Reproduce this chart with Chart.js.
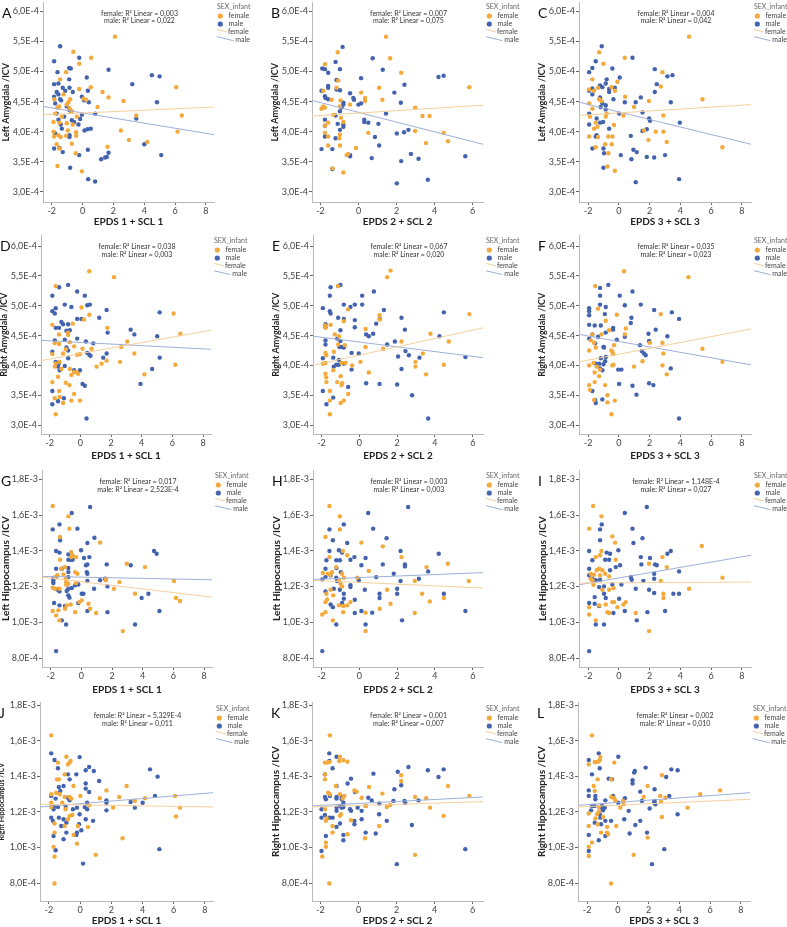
<!DOCTYPE html>
<html>
<head>
<meta charset="utf-8">
<script src="https://cdn.jsdelivr.net/npm/chart.js@4.4.1/dist/chart.umd.min.js"></script>
<style>
  html, body { margin: 0; padding: 0; background: #fff; }
  body { position: relative; width: 787px; height: 927px; overflow: hidden; font-family: Lato, "DejaVu Sans", sans-serif; }
  canvas { position: absolute; }
  .letter { position: absolute; font-size: 14px; line-height: 16px; color: #111; }
  .note { position: absolute; width: 150px; font-size: 7px; line-height: 7.5px; color: #333; text-align: center; white-space: nowrap; }
  .legend { position: absolute; }
  .legend svg { overflow: visible; display: block; }
</style>
</head>
<body>
<script>
// y values are in units of 1E-4 (brain volume / ICV)

// ---- axis ticks ----
const xTicksWide = [-2, 0, 2, 4, 6, 8];
const xTicksNarrow = [-2, 0, 2, 4, 6];
const amygTicks = [3.0, 3.5, 4.0, 4.5, 5.0, 5.5, 6.0];
const amygTickLabels = ['3,0E-4', '3,5E-4', '4,0E-4', '4,5E-4', '5,0E-4', '5,5E-4', '6,0E-4'];
const hippTicks = [8, 10, 12, 14, 16, 18];
const hippTickLabels = ['8,0E-4', '1,0E-3', '1,2E-3', '1,4E-3', '1,6E-3', '1,8E-3'];

const xTitles = ['EPDS 1 + SCL 1', 'EPDS 2 + SCL 2', 'EPDS 3 + SCL 3'];
const yTitles = ['Left Amygdala /ICV', 'Right Amygdala /ICV', 'Left Hippocampus /ICV', 'Right Hippocampus /ICV'];
const panelLetters = ['A', 'B', 'C', 'D', 'E', 'F', 'G', 'H', 'I', 'J', 'K', 'L'];
const r2Female = ['0,003', '0,007', '0,004', '0,038', '0,067', '0,035', '0,017', '0,003', '1,148E-4', '5,329E-4', '0,001', '0,002'];
const r2Male = ['0,022', '0,075', '0,042', '0,003', '0,020', '0,023', '2,523E-4', '0,003', '0,027', '0,011', '0,007', '0,010'];

// ---- A: Left Amygdala vs EPDS 1 + SCL 1 ----
const femaleA = [[2.1,5.58],[-0.6,5.33],[0.55,5.23],[-0.22,5.13],[-1.07,4.99],[-1.46,4.87],[-0.22,4.71],[0.53,4.74],[1.29,4.66],[1.68,4.57],[2.65,4.51],[6.07,4.74],[6.44,4.27],[6.16,4.0],[3.48,4.27],[4.19,3.83],[3.0,3.86],[2.48,4.02],[1.61,3.75],[0.97,4.41],[0.23,4.53],[0.06,4.55],[-0.81,4.54],[-0.92,4.49],[-0.7,4.34],[-0.38,4.25],[-0.64,4.12],[-0.42,3.99],[-0.42,3.93],[-1.07,3.93],[-0.7,3.8],[-0.44,3.64],[-0.05,3.34],[-1.63,3.43],[-1.68,3.79],[-1.57,3.94],[-1.89,4.0],[-1.89,4.16],[-1.5,4.15],[-1.63,4.4],[-1.52,4.42],[-1.83,4.54],[-1.24,4.62],[-1.03,4.45],[-0.85,4.39],[-1.5,3.72],[-1.42,3.91],[-1.03,4.14],[-0.96,4.02],[-1.85,3.92],[-1.78,4.3],[-1.35,4.25]];
const maleA = [[-1.46,5.42],[-1.85,5.17],[-1.63,4.99],[-0.87,5.06],[-0.77,5.05],[-0.22,5.23],[0.27,4.9],[1.68,5.03],[3.22,4.79],[4.49,4.94],[4.99,4.92],[4.82,4.49],[3.48,4.22],[4.0,3.79],[5.1,3.61],[1.68,3.65],[1.57,3.58],[1.46,3.57],[1.2,3.54],[0.34,3.7],[-0.22,3.61],[0.36,3.21],[0.81,3.17],[-0.81,3.4],[-1.5,3.73],[-1.85,3.72],[-1.29,3.66],[-1.35,4.05],[-1.78,3.97],[-0.85,3.91],[-0.85,3.94],[-0.7,4.19],[-0.55,4.16],[-0.27,4.12],[-0.16,4.21],[-0.05,4.28],[0.12,4.02],[0.32,4.04],[0.53,4.05],[0.4,4.49],[0.34,4.68],[-0.05,4.58],[0.1,4.52],[0.81,4.3],[-0.64,4.66],[-0.87,4.87],[-0.85,4.73],[-1.29,4.73],[-1.57,4.8],[-1.85,4.79],[-1.68,4.66],[-1.57,4.62],[-1.85,4.58],[-1.78,4.47],[-1.46,4.54],[-1.39,4.52],[-1.13,4.68],[-1.03,4.42],[-0.85,4.36],[-0.74,4.34],[-1.68,4.3],[-1.57,4.2],[-1.42,4.12],[-1.2,4.25]];
const fitFemaleA = [[-2.57,4.28],[8.52,4.41]];
const fitMaleA = [[-2.57,4.42],[8.52,3.95]];

// ---- B: Left Amygdala vs EPDS 2 + SCL 2 ----
const femaleB = [[1.44,5.58],[-1.1,5.32],[1.66,5.22],[-1.77,5.12],[2.24,4.98],[1.08,4.73],[5.82,4.74],[-1.86,4.68],[0.13,4.65],[0.34,4.56],[0.34,4.51],[1.25,4.53],[-0.45,4.45],[-1.42,4.53],[-0.95,4.52],[-0.98,4.42],[-1.95,4.38],[2.97,4.4],[3.36,4.26],[3.73,4.26],[4.47,3.98],[4.7,3.84],[3.54,3.81],[2.97,4.01],[0.51,3.98],[-0.14,3.73],[-0.63,3.61],[-0.8,3.32],[-1.37,3.39],[-0.98,3.77],[-1.6,3.77],[-0.98,3.95],[-1.02,3.89],[-1.6,3.92],[-1.77,3.98],[-1.77,4.1],[-1.6,4.15],[-1.33,4.28],[-1.77,4.4],[-1.86,4.42],[-1.16,4.73],[-1.07,4.85],[-0.93,4.23],[-0.8,4.16],[-0.55,3.63]];
const maleB = [[-0.84,5.41],[0.74,5.22],[-1.21,5.16],[-1.91,5.05],[-1.77,5.04],[-1.6,4.98],[-0.98,5.04],[1.27,5.03],[0.13,4.89],[-1.16,4.86],[4.2,4.91],[4.47,4.93],[1.88,4.65],[2.41,4.78],[2.22,4.48],[1.44,4.3],[0.3,4.2],[0.51,4.15],[0.3,4.16],[1.04,4.13],[0.86,3.91],[1.08,3.77],[0.69,3.56],[2.01,3.97],[2.39,3.99],[2.62,4.03],[2.75,3.63],[3.15,3.55],[2.24,3.51],[2.01,3.14],[3.64,3.2],[5.61,3.59],[-0.45,3.59],[-0.45,3.61],[-1.38,3.38],[-1.38,3.71],[-1.95,3.71],[-1.77,3.92],[-1.21,3.89],[-0.98,4.03],[-0.8,4.12],[-0.8,4.08],[-1.1,4.13],[-1.77,4.1],[-1.77,4.2],[-1.21,4.27],[-0.89,4.4],[-0.98,4.34],[-0.8,4.45],[-0.8,4.48],[-0.24,4.53],[-0.28,4.56],[-0.45,4.64],[-0.01,4.45],[0.13,4.47],[-1.6,4.54],[-1.74,4.56],[-1.6,4.73],[-1.16,4.7],[-1.95,4.68],[-1.77,4.59],[-1.6,4.76],[-0.98,4.69]];
const fitFemaleB = [[-2.45,4.26],[6.54,4.44]];
const fitMaleB = [[-2.45,4.52],[6.54,3.79]];

// ---- C: Left Amygdala vs EPDS 3 + SCL 3 ----
const femaleC = [[4.57,5.58],[-1.28,5.32],[-1.0,5.13],[0.39,5.23],[2.84,4.99],[2.73,4.75],[0.41,4.58],[5.44,4.54],[1.96,4.51],[0.99,4.41],[0.3,4.27],[2.9,4.27],[2.4,4.0],[2.9,4.0],[1.93,3.86],[3.12,3.83],[6.74,3.74],[1.64,4.02],[-0.31,4.11],[-0.42,3.92],[-0.68,3.92],[-0.89,3.79],[-0.46,3.79],[-0.68,3.64],[-0.74,3.42],[-0.26,3.35],[-1.5,3.74],[-1.35,3.91],[-1.93,3.92],[-1.61,4.05],[-1.5,4.15],[-1.87,4.25],[-1.72,4.38],[-1.93,4.47],[-1.13,4.51],[-1.28,4.54],[-1.72,4.87],[-1.93,4.7],[-1.61,4.68],[-1.35,4.73],[-0.85,4.25],[-0.79,4.3],[-0.09,4.83],[-0.26,4.68],[-0.48,4.74],[-1.39,4.08]];
const maleC = [[-1.11,5.42],[-1.5,5.17],[-1.72,5.06],[-1.93,4.99],[-0.42,5.05],[0.89,5.23],[0.06,4.9],[2.34,5.04],[3.16,4.92],[3.49,4.94],[2.47,4.79],[2.34,4.66],[3.38,4.49],[1.43,4.57],[1.1,4.49],[1.54,4.32],[1.97,4.22],[2.03,4.18],[0.02,4.3],[0.39,4.49],[3.97,4.15],[1.54,4.01],[1.82,4.04],[0.78,3.93],[0.95,3.7],[1.17,3.66],[0.82,3.54],[0.13,3.61],[1.82,3.58],[2.3,3.57],[3.01,3.61],[1.1,3.16],[3.92,3.21],[-1.0,3.4],[-1.0,3.72],[-1.72,3.72],[-0.96,3.64],[-1.5,3.92],[-1.44,3.94],[-0.63,4.05],[-1.93,4.12],[-1.22,4.15],[-1.02,4.16],[-1.44,4.22],[-0.85,4.37],[-0.85,4.44],[-0.35,4.54],[-0.26,4.73],[-0.63,4.66],[-0.63,4.71],[-0.85,4.8],[-1.07,4.74],[-0.79,4.87],[-1.22,4.77],[-1.72,4.62],[-1.93,4.68],[-1.72,4.72],[-1.22,4.57],[-1.18,4.41],[-1.07,4.47],[-1.93,4.3]];
const fitFemaleC = [[-2.59,4.27],[8.6,4.45]];
const fitMaleC = [[-2.59,4.49],[8.6,3.79]];

// ---- D: Right Amygdala vs EPDS 1 + SCL 1 ----
const femaleD = [[0.58,5.58],[2.19,5.48],[-1.61,5.33],[0.58,4.85],[6.08,4.87],[0.07,4.97],[-1.83,4.68],[-1.39,4.52],[-0.8,4.51],[1.76,4.63],[6.52,4.53],[3.06,4.4],[2.67,4.31],[3.52,4.2],[2.59,4.06],[1.71,4.08],[1.38,4.03],[1.06,3.98],[6.19,4.01],[4.18,3.85],[0.73,4.28],[0.14,4.28],[-0.21,4.18],[-0.03,4.19],[-0.41,4.32],[-0.69,4.39],[-0.95,4.27],[-1.13,4.2],[-1.67,4.37],[-1.39,4.36],[-1.83,4.19],[-1.35,4.06],[-1.61,4.03],[-1.67,3.98],[-1.24,3.94],[-0.69,3.94],[-0.41,3.89],[-0.24,3.88],[-0.59,3.84],[-0.14,3.86],[-1.46,3.81],[-1.83,3.72],[-0.95,3.71],[-0.72,3.67],[-0.41,3.52],[-0.03,3.41],[-0.59,3.41],[-1.13,3.37],[-1.35,3.47],[-1.67,3.45],[-1.61,3.18],[-1.39,3.57],[-0.5,4.7],[-0.8,4.55],[0.23,4.77]];
const maleD = [[-0.8,5.35],[-1.39,5.31],[-1.83,5.17],[-0.21,5.24],[0.29,5.17],[0.45,5.01],[0.62,5.02],[-1.02,5.02],[-0.59,4.98],[-1.61,4.96],[-1.83,4.91],[-1.67,4.87],[1.71,4.93],[5.17,4.89],[1.23,4.8],[-0.21,4.78],[0.07,4.78],[-1.24,4.73],[-0.8,4.69],[-1.61,4.63],[-1.39,4.63],[-1.13,4.69],[-0.91,4.58],[-0.69,4.59],[3.28,4.6],[3.52,4.52],[1.78,4.55],[5.01,4.49],[-1.67,4.42],[-1.02,4.43],[-0.21,4.45],[0.36,4.4],[0.84,4.37],[-1.83,4.23],[-0.91,4.3],[-0.8,4.25],[0.45,4.21],[0.58,4.18],[0.66,4.16],[1.49,4.13],[5.17,4.13],[1.71,4.2],[-0.8,4.12],[-1.61,4.06],[-1.39,4.04],[-1.46,3.98],[-1.35,3.92],[-1.02,3.99],[-0.41,3.92],[-0.03,3.92],[0.14,3.69],[0.29,3.66],[4.68,3.94],[3.92,3.69],[-1.83,3.57],[-1.83,3.35],[-1.46,3.4],[-1.08,3.45],[0.4,3.11]];
const fitFemaleD = [[-2.57,4.08],[8.52,4.59]];
const fitMaleD = [[-2.57,4.42],[8.52,4.27]];

// ---- E: Right Amygdala vs EPDS 2 + SCL 2 ----
const femaleE = [[1.65,5.59],[1.47,5.48],[-1.12,5.33],[-0.59,4.94],[5.82,4.86],[1.07,4.84],[1.07,4.77],[-0.82,4.74],[-1.82,4.67],[-1.79,4.63],[-1.52,4.68],[0.33,4.61],[-1.3,4.52],[-1.08,4.49],[3.76,4.53],[4.73,4.4],[2.23,4.4],[0.33,4.31],[1.26,4.28],[3.36,4.2],[2.97,4.06],[2.97,3.98],[4.47,4.01],[3.53,3.85],[0.5,3.88],[0.06,4.06],[-0.38,4.0],[-0.73,4.04],[-0.94,4.04],[-1.35,4.23],[-1.79,4.21],[-1.75,4.17],[-1.79,4.04],[-1.93,4.03],[-1.79,3.86],[-1.75,3.8],[-1.74,3.72],[-1.38,3.92],[-0.99,3.82],[-0.91,3.7],[-0.94,3.67],[-1.17,3.72],[-0.59,3.52],[-0.82,3.41],[-0.99,3.37],[-1.56,3.41],[-1.56,3.57],[-1.56,3.18],[-0.77,4.34],[-1.12,4.35]];
const maleE = [[-1.0,5.35],[-1.52,5.31],[-1.56,5.17],[-1.12,5.33],[0.15,5.17],[0.77,5.24],[-1.93,4.96],[-0.82,5.02],[-0.47,4.98],[-0.24,5.02],[0.15,5.02],[1.3,4.93],[-1.56,4.91],[-1.52,4.87],[-1.12,4.8],[-0.82,4.78],[-0.24,4.76],[-0.24,4.64],[-1.79,4.69],[-1.79,4.64],[-1.0,4.59],[0.89,4.7],[1.08,4.78],[2.23,4.8],[4.47,4.89],[2.41,4.6],[4.24,4.49],[0.36,4.52],[0.5,4.49],[0.73,4.53],[-1.17,4.45],[-1.0,4.41],[-1.79,4.42],[-1.79,4.35],[-1.05,4.31],[-0.91,4.31],[-0.82,4.3],[-1.38,4.13],[-1.08,4.09],[-0.41,4.21],[-0.03,4.2],[1.47,4.35],[1.88,4.4],[2.44,4.24],[2.62,4.17],[2.05,4.15],[3.18,4.13],[5.61,4.14],[-1.93,4.12],[-1.35,3.98],[-1.22,4.01],[-1.08,4.01],[-0.82,4.03],[-0.41,3.93],[2.23,3.94],[-0.59,3.64],[0.36,3.7],[1.07,3.69],[2.0,3.68],[2.79,3.5],[-1.93,3.57],[-1.74,3.35],[-1.38,3.46],[3.64,3.11]];
const fitFemaleE = [[-2.45,4.0],[6.54,4.63]];
const fitMaleE = [[-2.45,4.49],[6.54,4.13]];

// ---- F: Right Amygdala vs EPDS 3 + SCL 3 ----
const femaleF = [[0.34,5.58],[4.53,5.48],[-1.54,5.33],[-1.35,4.95],[-0.13,4.85],[2.73,4.86],[0.45,4.62],[0.39,4.52],[-0.63,4.59],[-1.13,4.52],[-1.72,4.52],[-1.83,4.42],[-1.61,4.38],[-1.5,4.3],[-1.93,4.25],[-0.48,4.25],[-0.42,4.23],[-0.31,4.34],[-0.37,4.19],[5.44,4.28],[2.84,4.38],[2.03,4.38],[2.9,4.2],[6.74,4.06],[2.84,4.0],[3.12,3.85],[1.54,4.07],[0.99,3.98],[-0.35,4.01],[-0.42,4.0],[-1.93,4.0],[-1.65,4.04],[-1.57,3.88],[-1.22,3.93],[-1.44,3.98],[-1.28,3.82],[-0.89,3.67],[-1.93,3.67],[-1.57,3.72],[-1.61,3.42],[-0.74,3.5],[-0.74,3.38],[-0.26,3.41],[-0.48,3.18],[-1.87,3.59],[-0.85,4.75]];
const maleF = [[-0.68,5.35],[-1.22,5.3],[-1.22,5.17],[0.06,5.17],[0.89,5.24],[-0.85,4.98],[-1.22,5.02],[-1.93,4.96],[0.39,5.01],[1.43,5.02],[-1.93,4.91],[-0.91,4.86],[2.3,4.93],[3.45,4.89],[3.92,4.78],[0.82,4.8],[-1.93,4.84],[-1.93,4.68],[-1.57,4.67],[-0.37,4.63],[-0.37,4.6],[0.78,4.71],[2.4,4.6],[1.93,4.53],[3.16,4.49],[-1.35,4.48],[-0.85,4.55],[-1.17,4.67],[-1.72,4.52],[-1.93,4.45],[-1.54,4.37],[-1.0,4.31],[-0.96,4.3],[-0.13,4.43],[0.39,4.48],[1.38,4.34],[1.49,4.24],[1.64,4.2],[1.75,4.17],[1.97,4.41],[-0.85,4.14],[-0.89,4.07],[-1.17,4.12],[-1.0,4.02],[-1.28,4.03],[-1.5,4.03],[-1.22,3.95],[-1.07,3.92],[-0.04,3.93],[0.17,3.93],[3.38,3.95],[-1.54,3.42],[-1.72,3.57],[-1.07,3.43],[-1.5,3.37],[0.02,3.69],[0.89,3.66],[1.15,3.51],[1.97,3.7],[2.25,3.67],[3.92,3.11]];
const fitFemaleF = [[-2.59,4.06],[8.6,4.61]];
const fitMaleF = [[-2.59,4.52],[8.6,4.01]];

// ---- G: Left Hippocampus vs EPDS 1 + SCL 1 ----
const femaleG = [[-1.87,16.51],[-0.85,15.93],[-0.78,15.24],[-1.39,14.77],[1.22,14.46],[-1.39,13.5],[-0.67,13.65],[-0.57,13.75],[-0.67,13.93],[-0.41,12.81],[-0.26,12.72],[-1.72,12.53],[-1.57,12.63],[-1.17,12.68],[-1.02,12.44],[-0.99,12.25],[-0.99,12.1],[-0.85,12.16],[-1.87,11.94],[-1.72,11.88],[-1.43,11.88],[-1.33,13.0],[-1.07,13.09],[-0.35,12.2],[-0.13,11.13],[0.02,11.23],[0.46,11.04],[0.57,10.76],[-0.41,10.57],[-1.07,10.76],[-1.5,10.67],[-1.87,10.63],[-1.65,10.39],[-0.96,10.95],[-0.7,11.0],[-1.43,10.11],[0.96,10.52],[1.61,12.44],[2.13,11.88],[2.48,12.25],[2.96,13.28],[4.15,13.09],[3.5,11.6],[2.7,9.51],[6.04,12.31],[6.17,11.36],[6.43,11.19],[1.59,12.35],[-0.35,13.65]];
const maleG = [[-0.63,16.12],[0.57,16.45],[-1.87,15.2],[-1.43,15.48],[-0.26,15.24],[-1.39,14.59],[0.85,14.73],[0.39,14.44],[-0.02,14.03],[-1.65,13.99],[-1.43,13.9],[-0.85,13.8],[-0.85,13.5],[-0.7,13.5],[-0.57,13.5],[0.17,13.6],[0.52,13.65],[0.3,13.19],[0.39,13.24],[1.65,13.24],[3.22,13.19],[4.74,13.99],[4.91,13.84],[-1.65,13.0],[-1.28,13.0],[-0.85,13.04],[-0.85,12.81],[0.35,12.81],[0.39,12.72],[-0.85,12.53],[-1.83,12.44],[-1.83,12.31],[-1.83,12.2],[-1.65,12.53],[1.22,12.35],[1.54,12.44],[0.39,12.31],[-0.41,12.07],[-0.63,11.92],[-0.85,11.88],[-0.2,12.12],[-1.57,11.84],[-1.43,11.73],[-0.96,11.75],[1.7,12.01],[0.83,11.88],[0.02,11.6],[0.13,11.6],[-0.85,11.51],[-0.78,11.38],[-1.78,11.08],[-1.43,10.95],[-1.07,10.91],[-0.2,11.08],[0.39,10.63],[1.7,10.57],[4.37,11.6],[3.93,11.36],[5.09,10.63],[3.5,9.88],[-1.0,9.88],[-1.28,10.11],[-1.65,8.39]];
const fitFemaleG = [[-2.57,12.53],[8.52,11.41]];
const fitMaleG = [[-2.57,12.57],[8.52,12.38]];

// ---- H: Left Hippocampus vs EPDS 2 + SCL 2 ----
const femaleH = [[-1.58,16.51],[-1.03,15.93],[-1.03,15.2],[-1.79,14.77],[0.11,14.46],[1.24,14.25],[-0.87,13.99],[-1.58,13.65],[2.23,13.65],[-0.64,13.75],[0.5,12.87],[4.68,13.28],[3.55,13.09],[-1.22,13.09],[-1.93,12.76],[-1.67,12.72],[-1.52,12.66],[-1.44,12.81],[-0.91,12.72],[-0.82,12.5],[-1.08,12.35],[-0.99,12.16],[-0.91,12.01],[-0.11,12.5],[2.93,12.31],[5.79,12.31],[1.47,11.82],[-1.52,11.82],[-1.74,11.6],[-1.38,11.51],[-1.79,11.13],[-0.85,10.91],[-0.47,11.13],[-0.64,10.95],[-1.08,10.95],[1.65,11.04],[1.08,10.76],[3.32,11.6],[3.73,11.17],[4.47,11.36],[2.93,10.52],[0.33,10.54],[-0.85,10.57],[-1.96,10.44],[-1.79,10.57],[-1.4,10.11],[0.33,9.51],[-1.7,11.28]];
const maleH = [[0.47,16.12],[2.58,16.45],[-0.82,15.48],[-1.58,15.2],[0.73,15.24],[1.44,14.71],[-1.4,14.59],[-0.64,14.44],[-1.08,14.03],[-1.58,13.99],[-0.91,13.9],[-1.74,13.47],[-1.22,13.47],[-1.03,13.47],[-0.47,13.5],[-0.26,13.65],[0.33,13.6],[2.18,13.99],[4.2,13.84],[-1.79,13.0],[-1.21,13.04],[-0.98,12.81],[0.11,13.19],[1.24,13.24],[2.41,13.24],[2.41,13.13],[1.82,12.72],[0.89,12.53],[3.15,12.44],[3.64,12.85],[-1.96,12.4],[-1.79,12.53],[-1.52,12.63],[-1.22,12.5],[-1.17,12.31],[-0.47,12.07],[-0.47,11.97],[-0.03,12.35],[2.18,12.31],[-1.79,11.73],[-1.35,11.88],[-1.03,11.82],[-0.82,11.6],[-0.82,11.32],[-0.91,11.08],[0.29,11.82],[-0.24,11.26],[1.07,11.6],[1.07,11.36],[2.0,11.6],[2.0,11.88],[4.47,11.6],[-1.52,11.0],[-1.4,10.85],[-0.24,10.52],[0.11,10.63],[0.68,10.54],[-1.22,9.88],[0.33,9.88],[2.26,10.11],[5.61,10.63],[-1.96,8.39]];
const fitFemaleH = [[-2.45,12.35],[6.54,11.92]];
const fitMaleH = [[-2.45,12.4],[6.54,12.78]];

// ---- I: Left Hippocampus vs EPDS 3 + SCL 3 ----
const femaleI = [[-1.67,16.51],[-1.13,15.93],[-1.93,15.24],[-0.42,14.81],[-0.24,14.46],[5.4,14.27],[-1.13,13.99],[-1.5,13.65],[-1.22,13.75],[-0.2,13.5],[2.84,13.65],[3.12,13.09],[1.97,13.28],[-1.83,12.72],[-1.61,12.66],[-1.44,12.91],[-1.28,13.0],[-1.07,12.91],[-0.89,12.72],[-1.72,12.35],[-1.65,12.1],[2.73,12.31],[6.74,12.5],[-1.07,11.82],[-0.63,11.82],[-0.35,11.92],[4.57,11.88],[2.9,11.6],[2.9,11.36],[-0.42,11.13],[-0.31,11.13],[0.45,11.13],[0.3,11.0],[-0.09,10.85],[-0.85,11.0],[-0.74,10.57],[-0.63,10.52],[-1.28,10.95],[-1.93,10.85],[-1.93,10.44],[-1.5,10.11],[1.1,10.52],[1.97,9.51],[-1.22,12.63],[-0.63,12.57],[-1.83,12.44]];
const maleI = [[0.39,16.12],[1.82,16.45],[-1.11,15.48],[-1.22,15.2],[-1.22,14.59],[0.89,15.24],[1.54,14.71],[0.95,14.44],[-1.93,13.99],[-0.03,14.03],[-0.79,13.9],[-0.57,13.84],[3.38,13.99],[3.16,13.84],[-1.72,13.47],[-0.89,13.5],[-0.63,13.5],[1.43,13.65],[2.03,13.6],[1.47,13.24],[2.36,13.24],[2.47,13.19],[-0.2,13.09],[0.08,13.19],[3.92,12.85],[-1.93,13.0],[-1.93,12.63],[-0.57,12.91],[0.78,12.53],[0.84,12.38],[2.3,12.72],[2.3,12.44],[1.6,12.31],[-1.72,12.44],[-1.5,12.35],[-1.22,12.38],[-1.28,11.97],[-0.96,12.01],[-0.42,12.12],[0.17,12.12],[1.1,11.88],[1.97,11.82],[2.3,11.64],[3.55,11.6],[3.92,11.6],[-1.57,11.41],[-0.96,11.6],[-1.57,11.04],[-1.28,10.91],[-1.93,11.08],[-0.85,11.36],[0.02,11.32],[-0.35,10.52],[0.39,10.63],[1.86,10.57],[3.01,10.63],[-1.5,9.88],[-0.96,9.88],[1.17,10.11],[-1.93,8.39]];
const fitFemaleI = [[-2.59,12.2],[8.6,12.25]];
const fitMaleI = [[-2.59,12.1],[8.6,13.75]];

// ---- J: Right Hippocampus vs EPDS 1 + SCL 1 ----
const femaleJ = [[-1.85,16.3],[-0.88,15.1],[-0.61,14.86],[-0.67,14.77],[-0.78,14.67],[-1.42,14.77],[-1.48,13.83],[-1.36,13.83],[-0.99,14.11],[-1.85,12.99],[-1.53,13.08],[-1.31,12.99],[-0.42,13.46],[0.02,12.9],[0.58,12.37],[-0.67,12.84],[-0.56,12.75],[-1.85,12.52],[-0.93,12.15],[-0.67,11.78],[-0.5,11.83],[-0.78,11.59],[-0.99,11.21],[-0.14,11.21],[0.51,11.16],[-0.42,10.71],[-0.2,10.22],[-1.64,11.35],[-1.64,10.84],[-1.7,10.04],[-1.64,9.5],[-1.64,7.98],[-1.85,12.28],[1.69,13.21],[1.26,12.77],[2.51,12.84],[2.98,13.46],[4.16,12.77],[6.09,12.9],[6.15,11.74],[6.41,12.24],[2.12,12.24],[3.51,12.62],[2.72,10.52],[1.0,9.59],[-1.14,12.52],[-0.99,12.84]];
const maleJ = [[-1.85,15.29],[-1.64,14.92],[-0.03,15.08],[-1.42,14.45],[0.36,14.34],[0.58,14.52],[0.88,14.3],[-0.78,14.11],[-0.24,14.11],[-0.67,13.83],[-1.36,13.4],[-1.27,13.18],[-1.85,12.9],[-1.57,12.75],[-1.06,13.46],[-0.78,12.8],[-0.67,12.65],[0.36,13.6],[0.36,13.31],[0.58,13.12],[1.22,13.74],[1.69,12.65],[1.69,12.52],[3.24,12.56],[3.51,12.24],[4.01,12.52],[4.8,12.9],[4.48,14.39],[4.97,13.98],[5.08,9.91],[1.69,12.09],[-1.64,12.34],[-1.7,12.15],[-1.42,12.28],[-0.93,12.34],[-0.46,12.15],[-0.2,12.24],[-0.03,11.87],[0.45,12.52],[0.3,12.28],[0.45,12.15],[-1.85,11.68],[-1.74,11.5],[-1.36,11.68],[-1.06,11.59],[-0.88,11.4],[-1.21,11.21],[0.36,11.59],[0.83,11.5],[-0.07,11.31],[0.08,10.97],[-0.88,10.84],[-1.06,10.47],[-0.2,10.84],[-0.24,10.71],[-1.7,10.65],[-1.57,9.85],[0.19,9.1]];
const fitFemaleJ = [[-2.57,12.43],[8.52,12.28]];
const fitMaleJ = [[-2.57,12.28],[8.52,13.08]];

// ---- K: Right Hippocampus vs EPDS 2 + SCL 2 ----
const femaleK = [[-1.51,16.3],[-1.77,14.77],[-1.65,14.77],[-1.54,14.8],[-0.98,15.1],[-1.02,14.86],[-0.8,14.9],[-0.58,14.82],[-1.77,13.83],[-1.77,14.11],[-1.19,13.46],[-1.6,13.08],[-1.51,12.99],[-0.98,12.99],[-0.84,12.75],[-0.75,12.9],[-0.22,13.21],[-0.1,13.14],[0.55,13.4],[0.16,12.8],[0.37,12.34],[1.25,13.03],[1.48,12.28],[1.66,12.39],[2.24,14.06],[2.24,13.74],[2.97,12.84],[3.55,12.77],[3.76,12.24],[4.7,13.46],[4.47,11.78],[5.82,12.9],[2.97,9.59],[1.08,11.21],[0.34,10.52],[-0.4,11.53],[-0.58,10.75],[-0.93,11.87],[-0.98,11.78],[-1.37,11.21],[-1.37,10.84],[-1.77,12.15],[-1.72,11.5],[-1.72,10.28],[-1.72,10.04],[-1.91,9.5],[-1.54,7.98],[-1.68,11.63]];
const maleK = [[-1.54,15.29],[-1.54,14.86],[-1.16,15.1],[-1.37,14.45],[-1.77,14.11],[-0.4,13.87],[-0.58,13.6],[-1.16,13.46],[-1.77,12.84],[-1.72,12.71],[-1.51,12.9],[-1.16,12.84],[-1.16,12.75],[-0.89,12.84],[-0.89,12.71],[-0.8,12.52],[-0.19,13.12],[0.51,12.8],[0.78,14.15],[0.69,12.65],[1.09,12.47],[1.88,13.27],[2.24,13.5],[2.06,14.26],[2.62,14.52],[3.64,14.34],[4.2,13.96],[4.47,14.39],[2.41,12.62],[2.45,12.52],[3.15,12.65],[1.83,12.62],[-1.95,12.15],[-1.95,11.68],[-1.77,11.83],[-1.54,11.68],[-1.37,11.68],[-1.16,12.24],[-1.16,12.06],[-0.98,12.34],[-0.89,12.24],[-0.8,12.28],[-0.45,12.15],[-0.4,12.06],[-0.05,12.24],[0.16,12.06],[0.37,12.34],[-1.16,11.16],[-0.98,11.35],[-0.22,11.5],[-0.22,11.31],[0.16,11.59],[1.08,11.87],[1.48,11.5],[0.37,10.84],[0.9,10.79],[-0.8,10.71],[-0.8,10.41],[-1.72,10.65],[-1.95,9.81],[2.8,11.27],[2.01,9.07],[5.61,9.91]];
const fitFemaleK = [[-2.45,12.28],[6.54,12.58]];
const fitMaleK = [[-2.45,12.34],[6.54,12.84]];

// ---- L: Right Hippocampus vs EPDS 3 + SCL 3 ----
const femaleL = [[-1.68,16.3],[-1.89,14.67],[-1.5,14.8],[-1.31,14.82],[-1.18,14.9],[-1.13,15.08],[-0.23,14.77],[-1.57,13.46],[-1.5,13.18],[-1.31,13.83],[-0.44,13.83],[-0.42,12.84],[-0.23,12.77],[-0.16,12.62],[0.34,12.62],[0.38,12.43],[0.16,12.24],[1.68,12.84],[1.94,13.46],[2.87,14.06],[2.76,12.9],[2.81,12.58],[3.09,12.8],[5.36,12.99],[6.66,13.21],[4.54,12.24],[2.87,11.72],[1.94,10.56],[1.03,9.59],[-0.44,7.98],[-1.89,11.91],[-1.89,11.21],[-1.89,10.04],[-1.89,9.53],[-1.68,10.28],[-1.46,11.63],[-1.35,11.87],[-1.24,12.02],[-1.31,11.31],[-0.96,11.72],[-1.09,10.84],[-0.7,11.16],[-0.7,10.84],[-0.64,10.75],[-0.1,11.21],[-1.24,12.28]];
const maleL = [[-1.89,14.92],[-1.24,15.29],[-1.18,14.45],[0.03,15.1],[-1.68,14.11],[-0.59,13.87],[-0.38,13.83],[-1.89,13.21],[-1.89,12.9],[-1.46,12.9],[-1.46,12.71],[-0.81,12.65],[-0.31,12.9],[0.03,12.52],[0.46,12.77],[0.96,13.78],[0.96,13.59],[1.11,14.3],[1.06,14.21],[1.81,14.49],[1.46,13.14],[1.57,12.62],[2.39,13.27],[2.39,12.62],[3.15,13.96],[3.48,14.39],[3.89,14.34],[3.35,12.9],[2.07,12.19],[2.44,12.43],[2.37,12.56],[3.89,11.87],[-1.68,12.34],[-1.74,12.09],[-1.52,12.34],[-1.09,12.24],[-1.03,12.34],[-0.85,12.24],[-0.96,12.09],[-1.18,11.87],[-1.13,11.68],[-1.5,11.4],[-1.09,11.31],[-0.81,11.5],[-0.44,11.5],[0.42,11.59],[0.71,12.06],[1.14,11.27],[1.46,11.5],[1.9,10.84],[0.77,10.79],[-1.89,10.71],[-1.24,10.41],[-0.81,10.65],[-1.89,9.81],[3.02,9.91],[2.22,9.07]];
const fitFemaleL = [[-2.59,12.28],[8.6,12.71]];
const fitMaleL = [[-2.59,12.37],[8.6,13.08]];

const femaleSets = [femaleA, femaleB, femaleC, femaleD, femaleE, femaleF, femaleG, femaleH, femaleI, femaleJ, femaleK, femaleL];
const maleSets = [maleA, maleB, maleC, maleD, maleE, maleF, maleG, maleH, maleI, maleJ, maleK, maleL];
const fitFemaleSets = [fitFemaleA, fitFemaleB, fitFemaleC, fitFemaleD, fitFemaleE, fitFemaleF, fitFemaleG, fitFemaleH, fitFemaleI, fitFemaleJ, fitFemaleK, fitFemaleL];
const fitMaleSets = [fitMaleA, fitMaleB, fitMaleC, fitMaleD, fitMaleE, fitMaleF, fitMaleG, fitMaleH, fitMaleI, fitMaleJ, fitMaleK, fitMaleL];

// ---- layout (page pixels) ----
const FEMALE = '#f4a93b', MALE = '#4363ae';
const FEMALE_LINE = '#f5cf9c', MALE_LINE = '#9fafd8';
const Y_AXIS_W = 42;

const rowLayout = [
  { top: 2,   bottom: 202, min: 2.83, max: 6.15,  xh: 26, ticks: amygTicks, labels: amygTickLabels, ytSize: 9,  noteY: 11.5, legY: 2 },
  { top: 235, bottom: 434, min: 2.85, max: 6.18,  xh: 28, ticks: amygTicks, labels: amygTickLabels, ytSize: 9,  noteY: 12,   legY: 3 },
  { top: 470, bottom: 667, min: 7.5,  max: 18.5,  xh: 29, ticks: hippTicks, labels: hippTickLabels, ytSize: 10, noteY: 12,   legY: 2.5 },
  { top: 702, bottom: 901, min: 7.0,  max: 18.15, xh: 26, ticks: hippTicks, labels: hippTickLabels, ytSize: 10, noteY: 14,   legY: 4 }
];
const colRange = [
  { min: -2.57, max: 8.52, ticks: xTicksWide },
  { min: -2.45, max: 6.54, ticks: xTicksNarrow },
  { min: -2.59, max: 8.6,  ticks: xTicksWide }
];
const plotLeft  = [43, 312, 579, 41, 313, 579, 42, 313, 579, 40, 312, 578];
const plotRight = [214, 483, 751, 211, 483, 751, 212, 483, 751, 213, 483, 750];

const toXY = pairs => pairs.map(([x, y]) => ({ x, y }));

function addDiv(cls, left, top, html) {
  const d = document.createElement('div');
  d.className = cls;
  d.style.left = left + 'px';
  d.style.top = top + 'px';
  d.innerHTML = html;
  document.body.appendChild(d);
  return d;
}

function legendSvg() {
  return `<svg width="50" height="42" xmlns="http://www.w3.org/2000/svg" font-family="Lato, sans-serif" font-size="7">
    <text x="0" y="5.2" fill="#666">SEX_infant</text>
    <circle cx="3.3" cy="12" r="2.6" fill="${FEMALE}"/>
    <text x="11.5" y="14.3" fill="#444">female</text>
    <circle cx="3.3" cy="20" r="2.6" fill="${MALE}"/>
    <text x="11.5" y="22.3" fill="#444">male</text>
    <line x1="0" y1="25.3" x2="10" y2="28" stroke="${FEMALE_LINE}" stroke-width="1"/>
    <text x="11" y="30" fill="#444">female</text>
    <line x1="0" y1="32.7" x2="16.5" y2="36.7" stroke="${MALE_LINE}" stroke-width="1"/>
    <text x="18.3" y="37.6" fill="#444">male</text>
  </svg>`;
}

// ---- build the 12 panels ----
panelLetters.forEach((letter, i) => {
  const row = rowLayout[Math.floor(i / 3)];
  const col = colRange[i % 3];
  const pl = plotLeft[i], pr = plotRight[i];

  const canvas = document.createElement('canvas');
  const cl = pl - Y_AXIS_W, ct = row.top - 6;
  canvas.width = pr - cl + 4;
  canvas.height = row.bottom - ct + row.xh;
  canvas.style.left = cl + 'px';
  canvas.style.top = ct + 'px';
  document.body.appendChild(canvas);

  const ytSize = letter === 'J' ? 7 : row.ytSize;

  new Chart(canvas, {
    type: 'scatter',
    data: {
      datasets: [
        { data: toXY(fitFemaleSets[i]), showLine: true, borderColor: FEMALE_LINE, borderWidth: 1, pointRadius: 0 },
        { data: toXY(fitMaleSets[i]), showLine: true, borderColor: MALE_LINE, borderWidth: 1, pointRadius: 0 },
        { data: toXY(femaleSets[i]), backgroundColor: FEMALE, borderWidth: 0, pointRadius: 2.2 },
        { data: toXY(maleSets[i]), backgroundColor: MALE, borderWidth: 0, pointRadius: 2.2 }
      ]
    },
    options: {
      responsive: false,
      animation: false,
      events: [],
      layout: { padding: { top: 6, right: 4, left: 0, bottom: 0 } },
      plugins: { legend: { display: false }, tooltip: { enabled: false } },
      scales: {
        x: {
          type: 'linear',
          min: col.min,
          max: col.max,
          afterBuildTicks: s => { s.ticks = col.ticks.map(v => ({ value: v })); },
          afterFit: s => { s.height = row.xh; },
          grid: { drawOnChartArea: false, drawTicks: true, tickLength: 3, color: '#666' },
          border: { color: '#b9b9b9' },
          ticks: { color: '#444', padding: 1, maxRotation: 0, font: { family: 'Lato', size: 9 } },
          title: { display: true, text: xTitles[i % 3], color: '#222', padding: 0, font: { family: 'Lato', size: 10, weight: 'bold' } }
        },
        y: {
          type: 'linear',
          min: row.min,
          max: row.max,
          afterBuildTicks: s => { s.ticks = row.ticks.map(v => ({ value: v })); },
          afterFit: s => { s.width = Y_AXIS_W; },
          grid: { drawOnChartArea: false, drawTicks: true, tickLength: 3, color: '#666' },
          border: { color: '#b9b9b9' },
          ticks: { color: '#444', padding: 1, font: { family: 'Lato', size: 9 }, callback: (v, idx) => row.labels[idx] },
          title: { display: true, text: yTitles[Math.floor(i / 3)], color: '#222', padding: 0, font: { family: 'Lato', size: ytSize, weight: 'bold' } }
        }
      }
    }
  });

  // panel letter, R² note and legend
  addDiv('letter', pl - 41, row.top + 3, letter);
  const cx = (pl + pr) / 2 + 11;
  addDiv('note', cx - 75, row.top + row.noteY - 4,
    `female: R² Linear = ${r2Female[i]}<br>male: R² Linear = ${r2Male[i]}`);
  addDiv('legend', pr + 2.5, row.top + row.legY, legendSvg());
});
</script>
</body>
</html>
